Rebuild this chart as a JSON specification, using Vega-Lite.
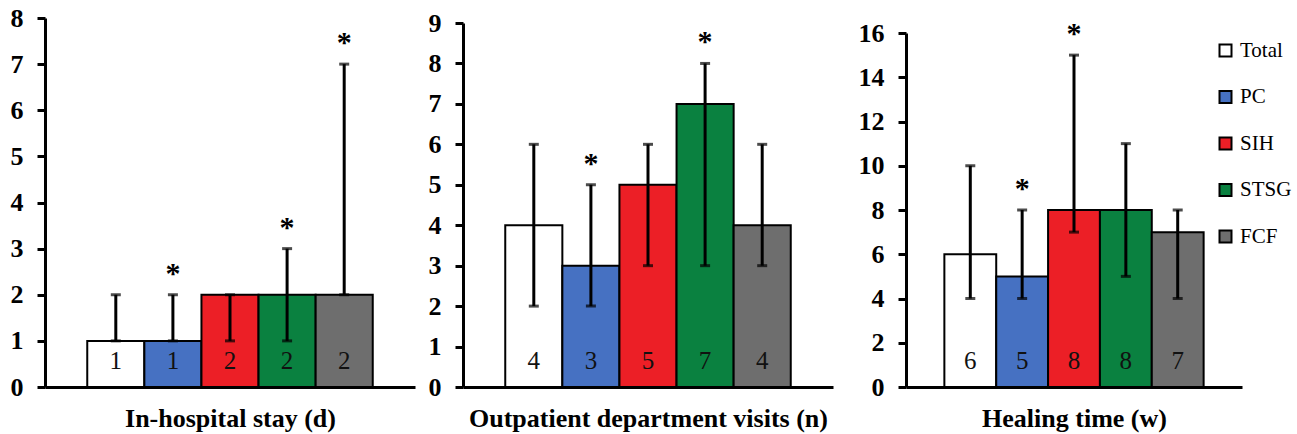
{
  "$schema": "https://vega.github.io/schema/vega-lite/v6.json",
  "padding": {"left": 10, "top": 5, "right": 5, "bottom": 3},
  "background": "white",
  "config": {
    "view": {"stroke": null},
    "font": "Liberation Serif",
    "axis": {"grid": false, "domainColor": "black", "domainWidth": 3, "tickColor": "black", "tickWidth": 3, "tickSize": 8, "labelColor": "black", "labelFont": "Liberation Serif", "labelFontWeight": "bold", "labelFontSize": 26, "labelPadding": 14, "titleFont": "Liberation Serif", "titleFontWeight": "bold", "titleFontSize": 26, "titleColor": "black"},
    "axisX": {"ticks": false, "labels": false, "titlePadding": 18},
    "tick": {"color": "black", "thickness": 3, "size": 10}
  },
  "data": {"values": [
    {"panel": "stay", "group": "Total", "median": 1, "low": 1, "high": 2, "sig": ""},
    {"panel": "stay", "group": "PC", "median": 1, "low": 1, "high": 2, "sig": "*"},
    {"panel": "stay", "group": "SIH", "median": 2, "low": 1, "high": 2, "sig": ""},
    {"panel": "stay", "group": "STSG", "median": 2, "low": 1, "high": 3, "sig": "*"},
    {"panel": "stay", "group": "FCF", "median": 2, "low": 2, "high": 7, "sig": "*"},
    {"panel": "visits", "group": "Total", "median": 4, "low": 2, "high": 6, "sig": ""},
    {"panel": "visits", "group": "PC", "median": 3, "low": 2, "high": 5, "sig": "*"},
    {"panel": "visits", "group": "SIH", "median": 5, "low": 3, "high": 6, "sig": ""},
    {"panel": "visits", "group": "STSG", "median": 7, "low": 3, "high": 8, "sig": "*"},
    {"panel": "visits", "group": "FCF", "median": 4, "low": 3, "high": 6, "sig": ""},
    {"panel": "healing", "group": "Total", "median": 6, "low": 4, "high": 10, "sig": ""},
    {"panel": "healing", "group": "PC", "median": 5, "low": 4, "high": 8, "sig": "*"},
    {"panel": "healing", "group": "SIH", "median": 8, "low": 7, "high": 15, "sig": "*"},
    {"panel": "healing", "group": "STSG", "median": 8, "low": 5, "high": 11, "sig": ""},
    {"panel": "healing", "group": "FCF", "median": 7, "low": 4, "high": 8, "sig": ""}
  ]},
  "resolve": {"scale": {"y": "independent", "x": "independent", "color": "independent"}, "legend": {"color": "independent"}},
  "spacing": 25,
  "hconcat": [
    {
      "spacing": 13,
      "resolve": {"scale": {"y": "independent", "x": "independent", "color": "independent"}, "legend": {"color": "independent"}},
      "hconcat": [
        {
          "width": 370, "height": 369,
          "transform": [{"filter": "datum.panel === 'stay'"}],
          "encoding": {"x": {"field": "group", "type": "nominal", "scale": {"domain": ["Total", "PC", "SIH", "STSG", "FCF"], "paddingInner": 0, "paddingOuter": 0.74}, "title": "In-hospital stay (d)"}},
          "layer": [
            {"mark": {"type": "bar", "stroke": "black", "strokeWidth": 2},
             "encoding": {
               "y": {"field": "median", "type": "quantitative", "title": null, "scale": {"domain": [0, 8], "range": [369, 0], "nice": false}, "axis": {"values": [0,1,2,3,4,5,6,7,8]}},
               "color": {"field": "group", "type": "nominal", "legend": null, "scale": {"domain": ["Total", "PC", "SIH", "STSG", "FCF"], "range": ["#ffffff", "#4671c2", "#ec1f26", "#0a8140", "#6e6e6e"]}}}},
            {"mark": {"type": "rule", "color": "black", "strokeWidth": 3}, "encoding": {"y": {"field": "low", "type": "quantitative", "title": null}, "y2": {"field": "high"}}},
            {"mark": "tick", "encoding": {"y": {"field": "low", "type": "quantitative", "title": null}}},
            {"mark": "tick", "encoding": {"y": {"field": "high", "type": "quantitative", "title": null}}},
            {"mark": {"type": "text", "fontSize": 25, "color": "#111", "baseline": "middle", "dy": -26}, "encoding": {"y": {"datum": 0, "type": "quantitative", "title": null}, "text": {"field": "median"}}},
            {"mark": {"type": "text", "fontSize": 30, "fontWeight": "bold", "color": "black", "baseline": "alphabetic", "dy": -12}, "encoding": {"y": {"field": "high", "type": "quantitative", "title": null}, "text": {"field": "sig"}}}
          ]
        },
        {
          "width": 370, "height": 369,
          "transform": [{"filter": "datum.panel === 'visits'"}],
          "encoding": {"x": {"field": "group", "type": "nominal", "scale": {"domain": ["Total", "PC", "SIH", "STSG", "FCF"], "paddingInner": 0, "paddingOuter": 0.74}, "title": "Outpatient department visits (n)"}},
          "layer": [
            {"mark": {"type": "bar", "stroke": "black", "strokeWidth": 2},
             "encoding": {
               "y": {"field": "median", "type": "quantitative", "title": null, "scale": {"domain": [0, 9], "range": [369, 5], "nice": false}, "axis": {"values": [0,1,2,3,4,5,6,7,8,9]}},
               "color": {"field": "group", "type": "nominal", "legend": null, "scale": {"domain": ["Total", "PC", "SIH", "STSG", "FCF"], "range": ["#ffffff", "#4671c2", "#ec1f26", "#0a8140", "#6e6e6e"]}}}},
            {"mark": {"type": "rule", "color": "black", "strokeWidth": 3}, "encoding": {"y": {"field": "low", "type": "quantitative", "title": null}, "y2": {"field": "high"}}},
            {"mark": "tick", "encoding": {"y": {"field": "low", "type": "quantitative", "title": null}}},
            {"mark": "tick", "encoding": {"y": {"field": "high", "type": "quantitative", "title": null}}},
            {"mark": {"type": "text", "fontSize": 25, "color": "#111", "baseline": "middle", "dy": -26}, "encoding": {"y": {"datum": 0, "type": "quantitative", "title": null}, "text": {"field": "median"}}},
            {"mark": {"type": "text", "fontSize": 30, "fontWeight": "bold", "color": "black", "baseline": "alphabetic", "dy": -12}, "encoding": {"y": {"field": "high", "type": "quantitative", "title": null}, "text": {"field": "sig"}}}
          ]
        }
      ]
    },
    {
      "width": 336, "height": 369,
      "transform": [{"filter": "datum.panel === 'healing'"}],
      "encoding": {"x": {"field": "group", "type": "nominal", "scale": {"domain": ["Total", "PC", "SIH", "STSG", "FCF"], "paddingInner": 0, "paddingOuter": 0.74}, "title": "Healing time (w)"}},
      "layer": [
        {"mark": {"type": "bar", "stroke": "black", "strokeWidth": 2},
         "encoding": {
           "y": {"field": "median", "type": "quantitative", "title": null, "scale": {"domain": [0, 16], "range": [369, 15], "nice": false}, "axis": {"values": [0,2,4,6,8,10,12,14,16]}},
           "color": {"field": "group", "type": "nominal", "title": null,
             "scale": {"domain": ["Total", "PC", "SIH", "STSG", "FCF"], "range": ["#ffffff", "#4671c2", "#ec1f26", "#0a8140", "#6e6e6e"]},
             "legend": {"orient": "none", "legendX": 309, "legendY": 22, "symbolType": "square", "symbolSize": 144, "symbolStrokeColor": "black", "symbolStrokeWidth": 2, "labelFont": "Liberation Serif", "labelFontSize": 21, "labelColor": "black", "labelOffset": 4, "rowPadding": 24.5, "labelLimit": 200}}}},
        {"mark": {"type": "rule", "color": "black", "strokeWidth": 3}, "encoding": {"y": {"field": "low", "type": "quantitative", "title": null}, "y2": {"field": "high"}}},
        {"mark": "tick", "encoding": {"y": {"field": "low", "type": "quantitative", "title": null}}},
        {"mark": "tick", "encoding": {"y": {"field": "high", "type": "quantitative", "title": null}}},
        {"mark": {"type": "text", "fontSize": 25, "color": "#111", "baseline": "middle", "dy": -26}, "encoding": {"y": {"datum": 0, "type": "quantitative", "title": null}, "text": {"field": "median"}}},
        {"mark": {"type": "text", "fontSize": 30, "fontWeight": "bold", "color": "black", "baseline": "alphabetic", "dy": -12}, "encoding": {"y": {"field": "high", "type": "quantitative", "title": null}, "text": {"field": "sig"}}}
      ]
    }
  ]
}
